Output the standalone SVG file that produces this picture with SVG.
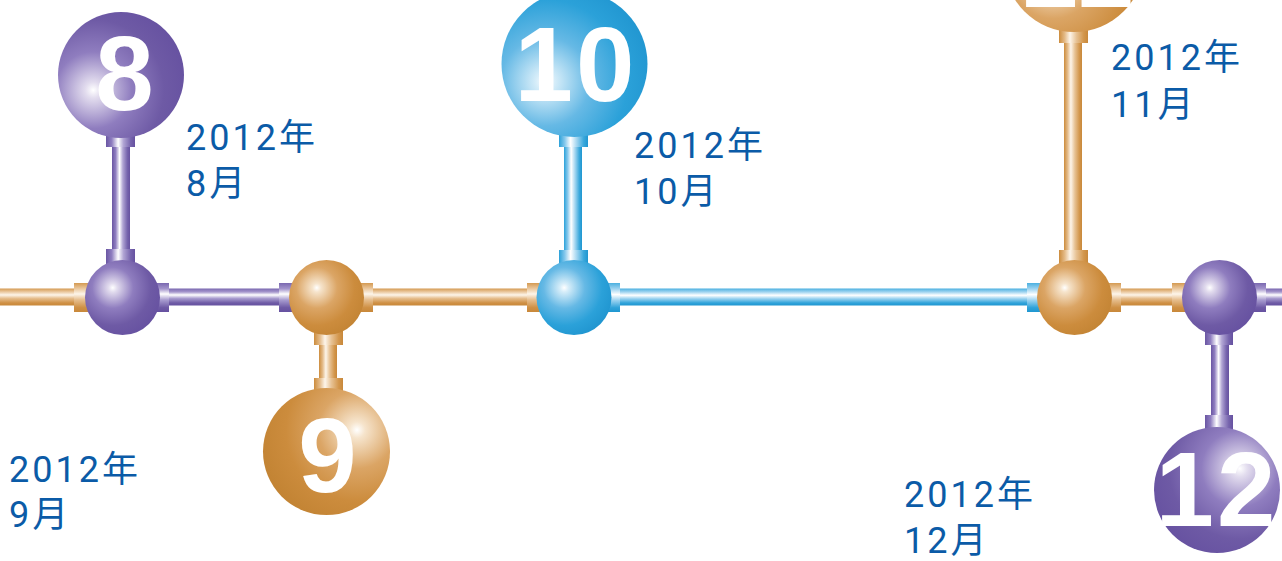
<svg xmlns="http://www.w3.org/2000/svg" width="1282" height="561" viewBox="0 0 1282 561">
<style>
.num{font-family:"Liberation Sans",Arial,sans-serif;font-weight:bold;font-size:105px;fill:#ffffff;text-anchor:middle;letter-spacing:3px}
.lbl{font-family:Roboto,"Noto Sans","Noto Sans CJK SC",sans-serif;font-size:36px;fill:#0b5ba7;letter-spacing:3px}
</style>
<defs>
<radialGradient id="pS" cx="0.37" cy="0.37" r="0.72" fx="0.37" fy="0.37">
<stop offset="0" stop-color="#ffffff"/><stop offset="0.08" stop-color="#e2dcee"/><stop offset="0.38" stop-color="#8f7dbf"/><stop offset="0.7" stop-color="#6e5aa5"/><stop offset="1" stop-color="#6550a0"/>
</radialGradient>
<radialGradient id="oS" cx="0.37" cy="0.37" r="0.72" fx="0.37" fy="0.37">
<stop offset="0" stop-color="#ffffff"/><stop offset="0.08" stop-color="#f6e4cc"/><stop offset="0.38" stop-color="#dba565"/><stop offset="0.7" stop-color="#cc8c3d"/><stop offset="1" stop-color="#c28333"/>
</radialGradient>
<radialGradient id="bS" cx="0.37" cy="0.37" r="0.72" fx="0.37" fy="0.37">
<stop offset="0" stop-color="#ffffff"/><stop offset="0.08" stop-color="#d6edf9"/><stop offset="0.38" stop-color="#66b9e5"/><stop offset="0.7" stop-color="#2ba1d9"/><stop offset="1" stop-color="#1e93ce"/>
</radialGradient>
<radialGradient id="pLL" href="#pS" cx="0.28" cy="0.62" fx="0.28" fy="0.62" r="0.8"/>
<radialGradient id="bLL" href="#bS" cx="0.3" cy="0.62" fx="0.3" fy="0.62" r="0.8"/>
<radialGradient id="oUR" href="#oS" cx="0.74" cy="0.33" fx="0.74" fy="0.33" r="0.8"/>
<radialGradient id="pUR" href="#pS" cx="0.68" cy="0.33" fx="0.68" fy="0.33" r="0.8"/>
<radialGradient id="oLL" href="#oS" cx="0.35" cy="0.6" fx="0.35" fy="0.6" r="0.8"/>
<linearGradient id="pV" x1="0" y1="0" x2="1" y2="0">
<stop offset="0" stop-color="#6a56a3"/><stop offset="0.2" stop-color="#8f7ec0"/><stop offset="0.42" stop-color="#ffffff"/><stop offset="0.6" stop-color="#b1a5d4"/><stop offset="0.85" stop-color="#7664ad"/><stop offset="1" stop-color="#6651a0"/>
</linearGradient>
<linearGradient id="oV" x1="0" y1="0" x2="1" y2="0">
<stop offset="0" stop-color="#cc8c3d"/><stop offset="0.2" stop-color="#e4bb89"/><stop offset="0.38" stop-color="#fdf5ea"/><stop offset="0.6" stop-color="#e7c294"/><stop offset="0.85" stop-color="#d3974d"/><stop offset="1" stop-color="#c8883a"/>
</linearGradient>
<linearGradient id="bV" x1="0" y1="0" x2="1" y2="0">
<stop offset="0" stop-color="#2ba1d9"/><stop offset="0.2" stop-color="#85c8ec"/><stop offset="0.4" stop-color="#ffffff"/><stop offset="0.6" stop-color="#a8d8f1"/><stop offset="0.85" stop-color="#3aa8dc"/><stop offset="1" stop-color="#1f96d0"/>
</linearGradient>
<linearGradient id="pH" x1="0" y1="0" x2="0" y2="1">
<stop offset="0" stop-color="#7a68b0"/><stop offset="0.2" stop-color="#a495cc"/><stop offset="0.38" stop-color="#ffffff"/><stop offset="0.58" stop-color="#a99dd0"/><stop offset="0.85" stop-color="#6e5aa5"/><stop offset="1" stop-color="#6651a0"/>
</linearGradient>
<linearGradient id="oH" x1="0" y1="0" x2="0" y2="1">
<stop offset="0" stop-color="#d49a52"/><stop offset="0.2" stop-color="#ebc9a0"/><stop offset="0.38" stop-color="#fdf5ea"/><stop offset="0.58" stop-color="#e6be8e"/><stop offset="0.85" stop-color="#cf9044"/><stop offset="1" stop-color="#c8883a"/>
</linearGradient>
<linearGradient id="bH" x1="0" y1="0" x2="0" y2="1">
<stop offset="0" stop-color="#4bb0e0"/><stop offset="0.2" stop-color="#9dd3f0"/><stop offset="0.4" stop-color="#ffffff"/><stop offset="0.6" stop-color="#9ad2f0"/><stop offset="0.85" stop-color="#30a3da"/><stop offset="1" stop-color="#1f96d0"/>
</linearGradient>
</defs>

<g id="connectors">
<rect x="0" y="288.5" width="90" height="17" fill="url(#oH)"/>
<rect x="74" y="283" width="16" height="29" fill="url(#oH)"/>
<rect x="150" y="288.5" width="150" height="17" fill="url(#pH)"/>
<rect x="153" y="283" width="16" height="29" fill="url(#pH)"/>
<rect x="279" y="283" width="16" height="29" fill="url(#pH)"/>
<rect x="355" y="288.5" width="190" height="17" fill="url(#oH)"/>
<rect x="357" y="283" width="16" height="29" fill="url(#oH)"/>
<rect x="527" y="283" width="16" height="29" fill="url(#oH)"/>
<rect x="600" y="288.5" width="445" height="17" fill="url(#bH)"/>
<rect x="604" y="283" width="16" height="29" fill="url(#bH)"/>
<rect x="1027" y="283" width="16" height="29" fill="url(#bH)"/>
<rect x="1100" y="288.5" width="95" height="17" fill="url(#oH)"/>
<rect x="1105" y="283" width="16" height="29" fill="url(#oH)"/>
<rect x="1172" y="283" width="16" height="29" fill="url(#oH)"/>
<rect x="1245" y="288.5" width="37" height="17" fill="url(#pH)"/>
<rect x="1250" y="283" width="16" height="29" fill="url(#pH)"/>
<rect x="112" y="130" width="18" height="140" fill="url(#pV)"/>
<rect x="106" y="130" width="29" height="17" fill="url(#pV)"/>
<rect x="106" y="249" width="29" height="17" fill="url(#pV)"/>
<rect x="319" y="320" width="18" height="75" fill="url(#oV)"/>
<rect x="314" y="328" width="29" height="17" fill="url(#oV)"/>
<rect x="314" y="378" width="29" height="17" fill="url(#oV)"/>
<rect x="564" y="125" width="18" height="145" fill="url(#bV)"/>
<rect x="559" y="130" width="29" height="17" fill="url(#bV)"/>
<rect x="559" y="250" width="29" height="17" fill="url(#bV)"/>
<rect x="1064" y="20" width="18" height="250" fill="url(#oV)"/>
<rect x="1059" y="26" width="29" height="17" fill="url(#oV)"/>
<rect x="1059" y="250" width="29" height="17" fill="url(#oV)"/>
<rect x="1211" y="320" width="18" height="112" fill="url(#pV)"/>
<rect x="1205" y="328" width="28" height="17" fill="url(#pV)"/>
<rect x="1205" y="415" width="28" height="17" fill="url(#pV)"/>
</g>

<g id="node-8">
<circle cx="121" cy="75" r="63" fill="url(#pLL)"/>
<text class="num" x="126" y="110">8</text>
<circle cx="122.5" cy="297.5" r="37.5" fill="url(#pS)"/>
<text class="lbl" x="186" y="150">2012年</text>
<text class="lbl" x="186" y="196">8月</text>
</g>

<g id="node-9">
<circle cx="326.5" cy="451.5" r="63.5" fill="url(#oUR)"/>
<text class="num" x="329" y="492">9</text>
<circle cx="326.5" cy="297.5" r="37.5" fill="url(#oS)"/>
<text class="lbl" x="9" y="482">2012年</text>
<text class="lbl" x="9" y="527">9月</text>
</g>

<g id="node-10">
<circle cx="574.5" cy="64" r="73" fill="url(#bLL)"/>
<text class="num" x="576" y="101">10</text>
<circle cx="574" cy="297.5" r="37.5" fill="url(#bS)"/>
<text class="lbl" x="634" y="158">2012年</text>
<text class="lbl" x="634" y="204">10月</text>
</g>

<g id="node-11">
<circle cx="1074" cy="-38" r="70" fill="url(#oLL)"/>
<text class="num" x="1078" y="7">11</text>
<circle cx="1074.5" cy="297.5" r="37.5" fill="url(#oS)"/>
<text class="lbl" x="1111" y="70">2012年</text>
<text class="lbl" x="1111" y="117">11月</text>
</g>

<g id="node-12">
<circle cx="1217" cy="490" r="63" fill="url(#pUR)"/>
<text class="num" x="1217" y="526">12</text>
<circle cx="1219.5" cy="297.5" r="37.5" fill="url(#pS)"/>
<text class="lbl" x="904" y="507">2012年</text>
<text class="lbl" x="904" y="553">12月</text>
</g>
</svg>
